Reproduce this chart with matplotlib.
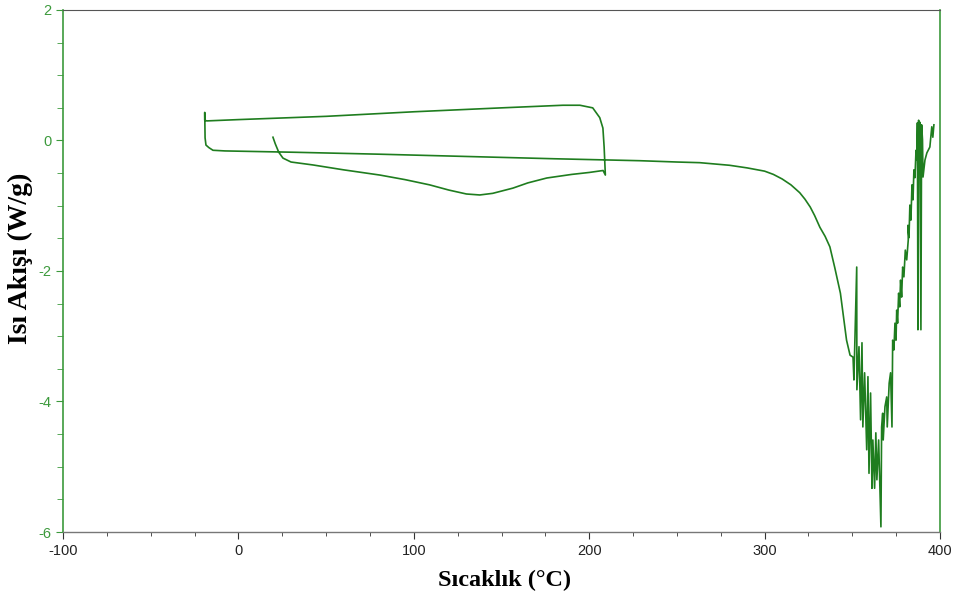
import matplotlib
matplotlib.use("Agg")
import matplotlib.pyplot as plt
from matplotlib.ticker import MultipleLocator

plt.rcParams["axes.unicode_minus"] = False

# First heating (20 -> 210 C)
heat1_T = [19.7, 21, 23, 25.4, 30, 42.5, 60, 80.7, 95, 109, 120, 130, 137.6,
           145, 156.5, 165, 175.8, 190, 200, 207.9, 209.2]
heat1_Q = [0.05, -0.05, -0.18, -0.27, -0.33, -0.375, -0.45, -0.53, -0.6, -0.68,
           -0.76, -0.82, -0.835, -0.81, -0.73, -0.65, -0.575, -0.52, -0.49, -0.46, -0.53]

# Cooling (210 -> -20 C)
cool_T = [209.2, 208.5, 207.8, 206, 202, 194.7, 185, 150, 100, 50, 0, -18, -19.2, -19.2]
cool_Q = [-0.53, -0.1, 0.19, 0.35, 0.5, 0.54, 0.54, 0.50, 0.44, 0.37, 0.32, 0.30, 0.31, 0.43]

# Second heating (-20 -> 400 C), smooth part
heat2_T = [-19.2, -19.0, -18.5, -16.8, -14.5, -7.7, 31, 80, 137.6, 180, 229, 250, 263,
           280, 290, 300, 305, 310, 315, 320, 323, 326, 328.5, 331.5, 334.5, 337.2,
           340, 343.2, 346.7]
heat2_Q = [0.43, 0.04, -0.07, -0.11, -0.15, -0.16, -0.18, -0.21, -0.25, -0.28, -0.31,
           -0.33, -0.34, -0.38, -0.42, -0.47, -0.52, -0.59, -0.68, -0.8, -0.9, -1.02,
           -1.15, -1.33, -1.47, -1.63, -1.95, -2.34, -3.06]

# Second heating, noisy decomposition region
noisy_T = [348.7, 350.4, 350.9, 352.5, 352.6, 353.8, 354.7, 355.5, 356.0, 357.0,
           358.2, 358.9, 359.5, 360.4, 361.2, 361.7, 362.7, 363.4, 364.0, 365.0,
           365.7, 366.3, 366.7, 367.3, 367.6, 368.6, 369.6, 369.9, 371.0, 371.8,
           372.6, 373.0, 373.7, 374.3, 374.9, 375.3, 375.8, 376.4, 377.0, 377.5,
           378.1, 378.7, 379.4, 380.2, 381.0, 381.9, 381.7, 382.3, 382.8, 383.4,
           384.0, 384.6, 385.1, 385.7, 386.3, 386.8, 387.1, 387.4, 387.8, 388.1,
           388.5, 389.1, 389.5, 390.0, 390.3, 391.4, 392.5, 394.2, 395.3, 395.9, 396.5]
noisy_Q = [-3.29, -3.32, -3.67, -1.94, -3.82, -3.16, -4.28, -3.10, -4.39, -3.56,
           -4.74, -3.62, -5.10, -3.87, -5.33, -4.59, -5.33, -4.48, -5.20, -4.59,
           -5.31, -5.92, -4.39, -4.18, -4.59, -4.08, -3.93, -4.39, -3.72, -3.56,
           -4.39, -3.06, -3.21, -2.80, -3.06, -2.60, -2.80, -2.34, -2.55, -2.14,
           -2.40, -1.94, -2.09, -1.68, -1.83, -1.52, -1.30, -1.49, -0.99, -1.22,
           -0.68, -0.91, -0.45, -0.57, -0.15, -0.30, 0.27, -2.90, 0.31, 0.08,
           0.28, -2.90, 0.24, 0.01, -0.56, -0.30, -0.19, -0.10, 0.21, 0.05, 0.24]

x_ticks = [-100, 0, 100, 200, 300, 400]
y_ticks = [-6, -4, -2, 0, 2]

line_color = "#1f7d1f"
axis_green = "#3c9a3c"

fig = plt.figure(figsize=(9.56, 6.01), dpi=100)
ax = fig.add_axes([0.0659, 0.1148, 0.9174, 0.8686])

T = heat1_T + cool_T + heat2_T + noisy_T
Q = heat1_Q + cool_Q + heat2_Q + noisy_Q
ax.plot(T, Q, color=line_color, lw=1.2)

ax.set_xlim(-100, 400)
ax.set_ylim(-6, 2)
ax.set_xticks(x_ticks)
ax.set_yticks(y_ticks)
ax.xaxis.set_minor_locator(MultipleLocator(25))
ax.yaxis.set_minor_locator(MultipleLocator(0.5))

for side in ("left", "right"):
    ax.spines[side].set_color(axis_green)
    ax.spines[side].set_linewidth(1.2)
ax.spines["top"].set_color("#555555")
ax.spines["bottom"].set_color("#777777")
ax.spines["top"].set_linewidth(0.8)
ax.spines["bottom"].set_linewidth(1.0)

ax.tick_params(axis="y", which="both", direction="out", colors=axis_green,
               labelcolor=axis_green, labelsize=10.5)
ax.tick_params(axis="y", which="major", length=5)
ax.tick_params(axis="y", which="minor", length=4)
ax.tick_params(axis="x", which="both", direction="out", colors="#333333",
               labelcolor="#222222", labelsize=10.5)
ax.tick_params(axis="x", which="major", length=5)
ax.tick_params(axis="x", which="minor", length=3)
for lab in ax.get_xticklabels() + ax.get_yticklabels():
    lab.set_family("Liberation Sans")

ax.set_xlabel("Sıcaklık (°C)", family="Liberation Serif", fontweight="bold",
              fontsize=17.5, va="center")
ax.set_ylabel("Isı Akışı (W/g)", family="Liberation Serif", fontweight="bold",
              fontsize=20, va="center")
ax.xaxis.set_label_coords(0.503, -0.092)
ax.yaxis.set_label_coords(-0.049, 0.525)

fig.savefig("out.png", dpi=100)
